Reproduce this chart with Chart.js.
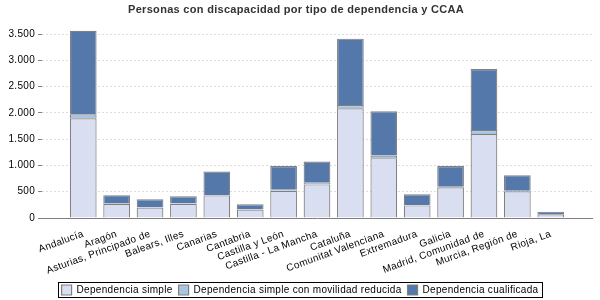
<!DOCTYPE html>
<html><head><meta charset="utf-8">
<script src="https://cdn.jsdelivr.net/npm/chart.js@4.4.0/dist/chart.umd.min.js"></script>
<style>html,body{margin:0;padding:0;background:#fff}#wrap{width:600px;height:300px;position:relative}</style>
</head><body><div id="wrap"><canvas id="c" width="600" height="300"></canvas></div>
<script>
const categories = ["Andalucía","Aragón","Asturias, Principado de","Balears, Illes","Canarias","Cantabria","Castilla y León","Castilla - La Mancha","Cataluña","Comunitat Valenciana","Extremadura","Galicia","Madrid, Comunidad de","Murcia, Región de","Rioja, La"];
const simple = [1900, 265, 200, 270, 430, 160, 520, 640, 2090, 1140, 240, 585, 1600, 510, 70];
const movilidad = [75, 15, 5, 8, 10, 5, 20, 30, 60, 50, 5, 10, 75, 8, 4];
const cualificada = [1590, 155, 152, 137, 446, 96, 448, 407, 1265, 843, 208, 393, 1162, 298, 47];
const yTicks = [0, 500, 1000, 1500, 2000, 2500, 3000, 3500];
const seriesNames = ["Dependencia simple", "Dependencia simple con movilidad reducida", "Dependencia cualificada"];

const toPts = arr => arr.map((v, i) => ({x: i, y: v}));
const SPACING = '0.3px';

const spacingPlugin = {
  id: 'spacing',
  beforeLayout(chart){ chart.ctx.letterSpacing = SPACING; },
  afterLayout(chart){ if (chart.legend) { chart.legend.left += 4; chart.legend.right += 4; } },
  beforeDraw(chart){ chart.ctx.letterSpacing = SPACING; }
};
const legendBox = {
  id: 'legendBox',
  afterDraw(chart){
    const lg = chart.legend;
    if(!lg || !lg.legendHitBoxes.length) return;
    const hb = lg.legendHitBoxes;
    let minX = Math.min(...hb.map(h=>h.left)), maxX = Math.max(...hb.map(h=>h.left+h.width));
    let minY = Math.min(...hb.map(h=>h.top)), maxY = Math.max(...hb.map(h=>h.top+h.height));
    const ctx = chart.ctx;
    ctx.save();
    ctx.strokeStyle = '#000';
    ctx.lineWidth = 1;
    ctx.strokeRect(Math.round(minX-4)+0.5, Math.round(minY-3)+0.5, Math.round(maxX-minX+7), Math.round(maxY-minY+5));
    ctx.restore();
  }
};

new Chart(document.getElementById('c'), {
  type: 'bar',
  data: {
    datasets: [
      {label: seriesNames[0], data: toPts(simple), backgroundColor: '#d9dff0', borderColor: '#808080', borderWidth: 1.2},
      {label: seriesNames[1], data: toPts(movilidad), backgroundColor: '#a9c4e2', borderColor: '#808080', borderWidth: 1.2},
      {label: seriesNames[2], data: toPts(cualificada), backgroundColor: '#5478a9', borderColor: '#808080', borderWidth: 1.2}
    ]
  },
  options: {
    responsive: false,
    animation: false,
    devicePixelRatio: 1,
    datasets: {bar: {barPercentage: 0.8, categoryPercentage: 1}},
    layout: {padding: {left: 0, right: 8, top: 2, bottom: -5}},
    plugins: {
      tooltip: {enabled: false},
      title: {display: true, text: 'Personas con discapacidad por tipo de dependencia y CCAA', color: '#333',
        font: {family: 'Liberation Sans', size: 11, weight: 'bold'}, padding: {top: 1, bottom: 8}},
      legend: {position: 'bottom', labels: {font: {family: 'Liberation Sans', size: 10}, color: '#000', boxWidth: 10, boxHeight: 10, padding: 6}}
    },
    scales: {
      x: {
        type: 'linear', stacked: true, min: -1.235, max: 15.235, offset: false,
        afterBuildTicks: s => { s.ticks = categories.map((_, i) => ({value: i})); },
        afterFit: s => { s.height = 61; s.paddingLeft = 0; s.paddingRight = 0; },
        grid: {display: false, offset: false},
        border: {display: true, color: '#808080', width: 1},
        ticks: {autoSkip: false, minRotation: 20, maxRotation: 20, padding: 2, color: '#000',
          font: {family: 'Liberation Sans', size: 10}, callback: v => categories[v]}
      },
      y: {
        stacked: true, min: 0, max: 3690,
        afterBuildTicks: s => { s.ticks = yTicks.map(v => ({value: v})); },
        afterFit: s => { s.width = 42; },
        border: {display: false, dash: [2,2]},
        grid: {color: '#dcdcdc', tickColor: '#808080', tickLength: 4, drawTicks: true},
        ticks: {padding: 3, color: '#000', font: {family: 'Liberation Sans', size: 10},
          callback: v => v.toLocaleString('de-DE')}
      }
    }
  },
  plugins: [spacingPlugin, legendBox]
});
</script></body></html>
